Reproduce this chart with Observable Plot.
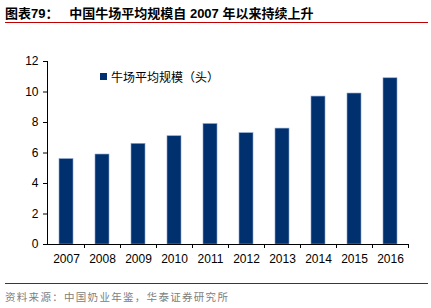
<!DOCTYPE html>
<html><head><meta charset="utf-8">
<script src="https://cdn.jsdelivr.net/npm/d3@7"></script>
<script src="https://cdn.jsdelivr.net/npm/@observablehq/plot@0.6"></script>
<style>
body{margin:0;background:#fff;}
#wrap{position:relative;width:431px;height:308px;overflow:hidden;font-family:"Liberation Sans",Arial,sans-serif;}
#title{position:absolute;left:5px;top:3px;font-size:13px;font-weight:bold;color:#000;font-family:"Liberation Sans","Noto Sans CJK SC",sans-serif;white-space:pre;}
#rule1{position:absolute;left:5px;top:22px;width:423px;height:1px;background:#c00000;}
#chart{position:absolute;left:0;top:26px;}
#legend{position:absolute;left:100px;top:68px;font-size:12px;font-family:"Noto Sans CJK SC",sans-serif;color:#000;display:flex;align-items:center;}
#legend span.sw{display:inline-block;width:7px;height:7px;background:#00306e;margin-right:4px;}
#rule2{position:absolute;left:5px;top:283px;width:423px;height:1px;background:#c00000;}
#source{position:absolute;left:5px;top:289px;font-size:10.5px;color:#808080;font-family:"Noto Sans CJK SC",sans-serif;letter-spacing:1.3px;}
</style></head>
<body>
<div id="wrap">
  <div id="title"></div>
  <div id="rule1"></div>
  <div id="chart"></div>
  <div id="legend"><span class="sw"></span><span id="legtext"></span></div>
  <div id="rule2"></div>
  <div id="source"></div>
</div>
<script>
const titleText = "图表79：   中国牛场平均规模自 2007 年以来持续上升";
const seriesName = "牛场平均规模（头）";
const sourceText = "资料来源：中国奶业年鉴，华泰证券研究所";
const years = ["2007","2008","2009","2010","2011","2012","2013","2014","2015","2016"];
const values = [5.6, 5.9, 6.6, 7.1, 7.9, 7.3, 7.6, 9.7, 9.9, 10.9];
const yTicks = [0, 2, 4, 6, 8, 10, 12];

document.getElementById("title").textContent = titleText;
document.getElementById("legtext").textContent = seriesName;
document.getElementById("source").textContent = sourceText;

const data = years.map((y, i) => ({year: y, value: values[i]}));

// axis lines and tick marks at band boundaries on the x axis
function axisLines(index, scales, values, dims) {
  const x = scales.x, y = scales.y;
  const step = x.step ? x.step() : (dims.width - dims.marginLeft - dims.marginRight) / years.length;
  const bw = x.bandwidth ? x.bandwidth() : 0;
  const y0 = y(0);
  const yTop = y(yTicks[yTicks.length - 1]);
  const xl = dims.marginLeft;
  const g = d3.create("svg:g").attr("stroke", "#000").attr("stroke-width", 1);
  g.append("line").attr("x1", xl + 0.5).attr("x2", xl + 0.5).attr("y1", yTop).attr("y2", y0);
  const edges = years.map(v => x(v) + bw / 2 - step / 2);
  edges.push(x(years[years.length - 1]) + bw / 2 + step / 2);
  edges.slice(1).forEach(e => {
    g.append("line").attr("x1", Math.round(e) + 0.5).attr("x2", Math.round(e) + 0.5)
      .attr("y1", y0).attr("y2", y0 + 4);
  });
  return g.node();
}

const chart = Plot.plot({
  width: 431,
  height: 244,
  marginLeft: 47,
  marginRight: 22,
  marginTop: 35,
  marginBottom: 26,
  style: {fontFamily: "Liberation Sans, Arial, sans-serif", fontSize: "12px", color: "#000", background: "transparent"},
  x: {domain: years, paddingInner: 0.6, paddingOuter: 0.3},
  y: {domain: [0, 12]},
  marks: [
    Plot.barY(data, {x: "year", y: "value", fill: "#00306e", stroke: "#8aa2cc", strokeWidth: 0.6}),
    Plot.axisY({ticks: yTicks, tickSize: 4, tickPadding: 5, label: null, fontSize: 12}),
    Plot.axisX({tickSize: 0, tickPadding: 10, label: null, fontSize: 12}),
    Plot.ruleY([0], {stroke: "#000"}),
    axisLines
  ]
});
document.getElementById("chart").appendChild(chart);
</script>
</body></html>
